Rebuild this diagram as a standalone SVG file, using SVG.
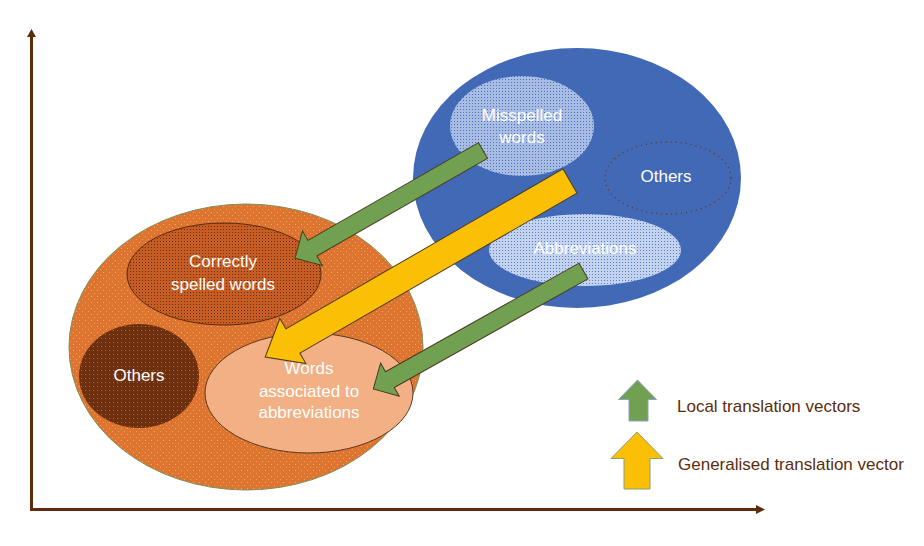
<svg xmlns="http://www.w3.org/2000/svg" width="924" height="546" viewBox="0 0 924 546">
<style>
text{font-family:"Liberation Sans",Arial,sans-serif;font-size:17px;text-anchor:middle;fill:#ffffff}
.leg{fill:#5a2d0c;text-anchor:start}
.axis{stroke:#5c2c0c;stroke-width:3;fill:none}
.arr{stroke:#4a3a22;stroke-width:1;stroke-linejoin:miter}
.green{fill:#70a050}
.yellow{fill:#fbc006}
</style>
<defs>
<pattern id="dotsOrange" width="6" height="6" patternUnits="userSpaceOnUse">
<rect width="6" height="6" fill="#dd7431"/>
<rect x="1" y="2" width="1" height="1" fill="#f3b43a"/>
<rect x="4" y="5" width="1" height="1" fill="#f0a840"/>
</pattern>
<pattern id="dotsDark" width="3" height="3" patternUnits="userSpaceOnUse">
<rect width="3" height="3" fill="#c65d22"/>
<rect x="1" y="1" width="1" height="1" fill="#6a2c0c"/>
</pattern>
<pattern id="dotsBrown" width="4" height="4" patternUnits="userSpaceOnUse">
<rect width="4" height="4" fill="#6e2f0e"/>
<rect x="1" y="2" width="1" height="1" fill="#c8632a"/>
</pattern>
<pattern id="dotsBlue" width="3" height="3" patternUnits="userSpaceOnUse">
<rect width="3" height="3" fill="#a9bde4"/>
<rect x="1" y="1" width="1" height="1" fill="#4a72be"/>
</pattern>
<pattern id="dotsWhite" width="3" height="3" patternUnits="userSpaceOnUse">
<rect width="3" height="3" fill="#c3d2ee"/>
<rect x="1" y="1" width="1" height="1" fill="#5a80c6"/>
</pattern>
</defs>

<g id="axes">
<line class="axis" x1="31.5" y1="511" x2="31.5" y2="35"/>
<polygon points="31.5,29 36,37 27,37" fill="#5c2c0c"/>
<line class="axis" x1="30" y1="509.5" x2="757" y2="509.5"/>
<polygon points="765,509.5 756,505 756,514" fill="#5c2c0c"/>
</g>

<g id="source-space">
<ellipse cx="577" cy="178" rx="164" ry="130" fill="#4169b6"/>
</g>
<g id="misspelled">
<ellipse cx="522" cy="126" rx="72" ry="50" fill="url(#dotsBlue)"/>
<text x="522" y="121">Misspelled</text>
<text x="522" y="143">words</text>
</g>
<g id="others-blue">
<ellipse cx="668" cy="178" rx="63" ry="36" fill="none" stroke="#6b3010" stroke-width="1.3" stroke-dasharray="1 4"/>
<text x="666" y="182">Others</text>
</g>
<g id="abbreviations">
<ellipse cx="585" cy="250" rx="96" ry="36" fill="url(#dotsWhite)"/>
<text x="585" y="254">Abbreviations</text>
</g>

<g id="target-space">
<ellipse cx="246" cy="347" rx="177" ry="143" fill="url(#dotsOrange)" stroke="#7d8f5a" stroke-width="1"/>
</g>
<g id="correctly-spelled">
<ellipse cx="224" cy="274" rx="97" ry="51" fill="url(#dotsDark)" stroke="#5a2a10" stroke-width="1"/>
<text x="223" y="267">Correctly</text>
<text x="223" y="290">spelled words</text>
</g>
<g id="others-orange">
<ellipse cx="139" cy="376" rx="60" ry="52" fill="url(#dotsBrown)"/>
<text x="139" y="381">Others</text>
</g>
<g id="words-abbrev">
<ellipse cx="309" cy="393" rx="104" ry="60" fill="#f2b084" stroke="#5a3a20" stroke-width="1"/>
<text x="309" y="374">Words</text>
<text x="309" y="397">associated to</text>
<text x="309" y="418">abbreviations</text>
</g>

<g id="connectors">
<polygon class="arr green" transform="translate(483,150.5) rotate(150.2)" points="0,-9 196.6,-9 196.6,-20 216.6,0 196.6,20 196.6,9 0,9"/>
<polygon class="arr yellow" transform="translate(570,181) rotate(150)" points="0,-14 320,-14 320,-26 352,0 320,26 320,14 0,14"/>
<polygon class="arr green" transform="translate(583.5,271) rotate(150.7)" points="0,-9 222,-9 222,-19 241,0 222,19 222,9 0,9"/>
</g>

<g id="legend">
<polygon class="green" stroke="#8aa2c8" stroke-width="1" points="637.5,380 656.5,399.5 648,399.5 648,421 629,421 629,399.5 618.5,399.5"/>
<text class="leg" x="677" y="412">Local translation vectors</text>
<polygon class="yellow" stroke="#8aa070" stroke-width="1" points="637,432 663,458.5 650,458.5 650,489 624,489 624,458.5 611,458.5"/>
<text class="leg" x="678" y="470">Generalised translation vector</text>
</g>
</svg>
